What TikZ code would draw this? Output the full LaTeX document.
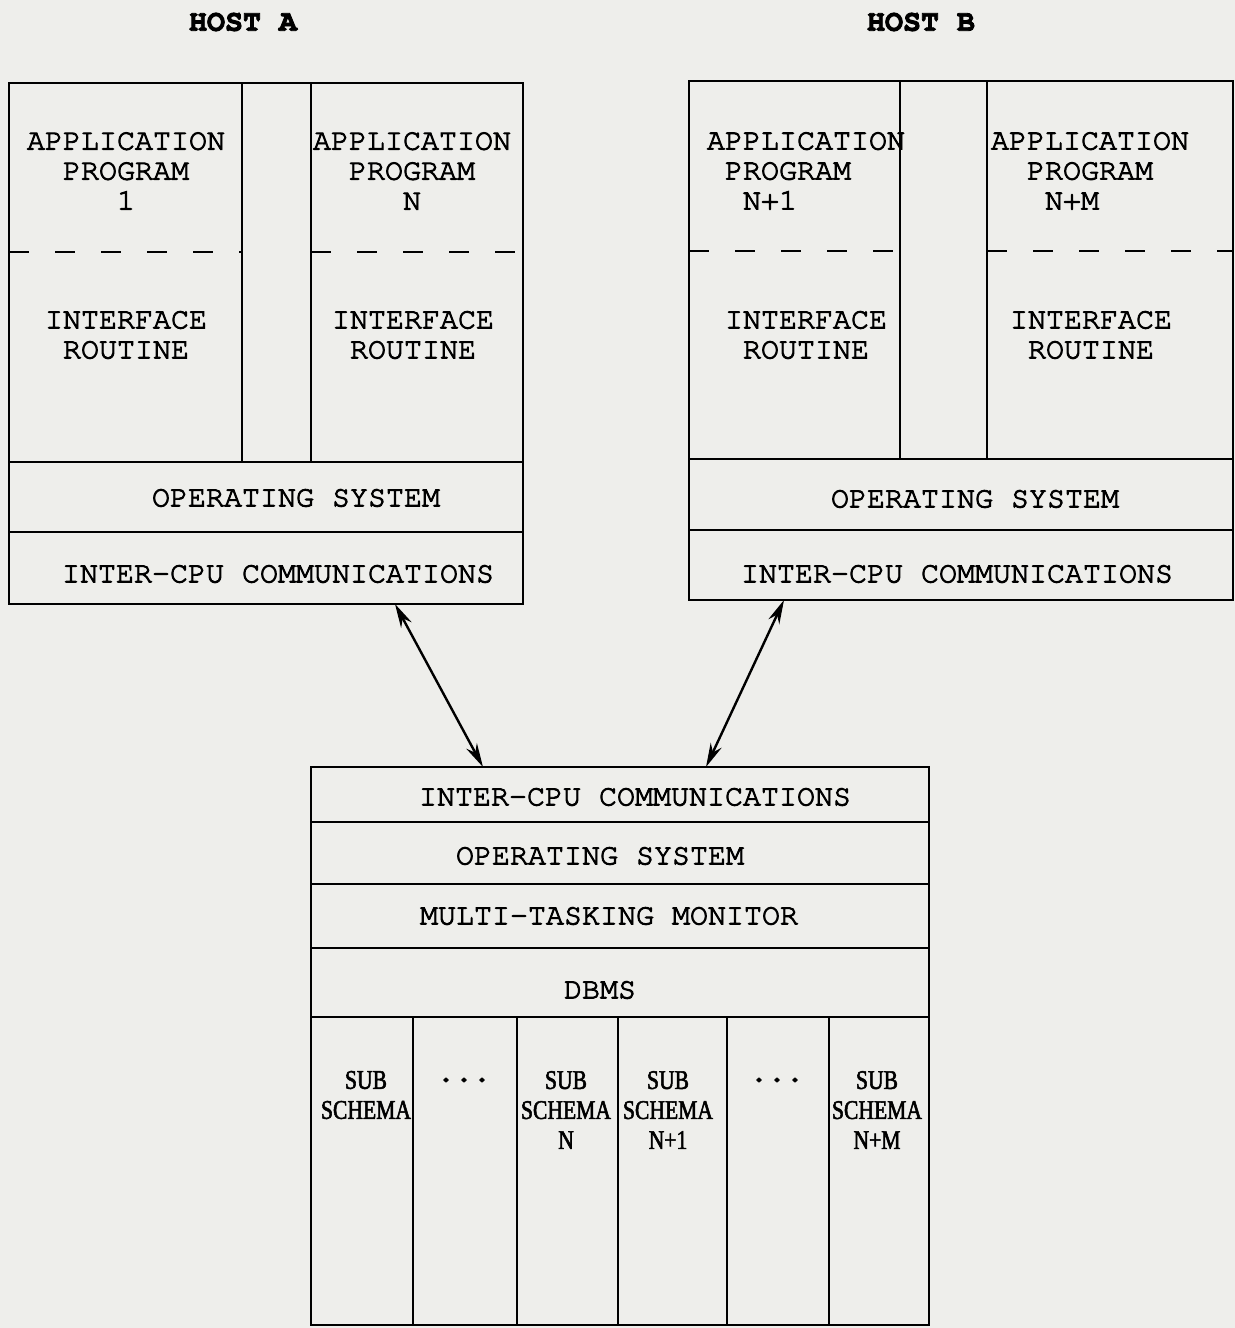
\documentclass[tikz,border=0pt]{standalone}
\usepackage{fontspec}
\setmainfont[FakeBold=3]{TeX Gyre Cursor}
\newfontfamily\schemafont[FakeStretch=0.8,FakeBold=2]{Liberation Serif}
\usetikzlibrary{arrows.meta}

\definecolor{paper}{RGB}{238,238,235}

\tikzset{
    box/.style={line width=1.2pt},
    sepline/.style={line width=1.2pt, dash pattern=on 10pt off 13pt},
    lbl/.style={inner sep=0pt, align=center, font=\fontsize{15pt}{15pt}\selectfont},
    head/.style={lbl, font=\fontsize{15pt}{15pt}\selectfont\bfseries},
    slbl/.style={inner sep=0pt, align=center, font=\schemafont\fontsize{13.5pt}{15pt}\selectfont},
    link/.style={line width=1.2pt, {Stealth[length=12pt,width=6pt]}-{Stealth[length=12pt,width=6pt]}}
}

\begin{document}
\begin{tikzpicture}[x=0.5pt, y=-0.5pt]

\fill[paper] (0,0) rectangle (1235,1328);
\useasboundingbox (0,0) rectangle (1235,1328);

% Host A
\node[head] (hosta) at (243,22) {HOST A};
\draw[box] (9,83) rectangle (523,604);
\foreach \x in {242,311} {
    \draw[box] (\x,83) -- (\x,462);
}
\draw[sepline] (9,252) -- (242,252);
\draw[sepline] (311,252) -- (523,252);
\draw[box] (9,462) -- (523,462);
\draw[box] (9,532) -- (523,532);

\node[lbl] (appa1) at (126,171) {APPLICATION\\PROGRAM\\1};
\node[lbl] (appan) at (412,171) {APPLICATION\\PROGRAM\\N};
\node[lbl] (ifa1) at (126,335) {INTERFACE\\ROUTINE};
\node[lbl] (ifan) at (413,335) {INTERFACE\\ROUTINE};
\node[lbl] (osa) at (296,498) {OPERATING SYSTEM};
\node[lbl] (comma) at (278,574) {INTER-CPU COMMUNICATIONS};

% Host B
\node[head] (hostb) at (921,22) {HOST B};
\draw[box] (689,81) rectangle (1233,600);
\foreach \x in {900,987} {
    \draw[box] (\x,81) -- (\x,459);
}
\draw[sepline] (689,251) -- (900,251);
\draw[sepline] (987,251) -- (1233,251);
\draw[box] (689,459) -- (1233,459);
\draw[box] (689,530) -- (1233,530);

\node[lbl, align=left] (appb1) at (806,171) {APPLICATION\\\hphantom{P}PROGRAM\\\hphantom{PR}N+1};
\node[lbl, align=left] (appbm) at (1090,171) {APPLICATION\\\hphantom{PR}PROGRAM\\\hphantom{PRO}N+M};
\node[lbl] (ifb1) at (806,335) {INTERFACE\\ROUTINE};
\node[lbl] (ifbm) at (1091,335) {INTERFACE\\ROUTINE};
\node[lbl] (osb) at (975,499) {OPERATING SYSTEM};
\node[lbl] (commb) at (957,574) {INTER-CPU COMMUNICATIONS};

% Database machine
\draw[box] (311,767) rectangle (929,1325);
\foreach \y in {822,884,948,1017} {
    \draw[box] (311,\y) -- (929,\y);
}
\foreach \x in {413,517,618,727,829} {
    \draw[box] (\x,1017) -- (\x,1325);
}
\node[lbl] (commd) at (635,797) {INTER-CPU COMMUNICATIONS};
\node[lbl] (osd) at (600,856) {OPERATING SYSTEM};
\node[lbl] (mtm) at (609,916) {MULTI-TASKING MONITOR};
\node[lbl] (dbms) at (600,990) {DBMS};

\node[slbl] (sub1) at (366,1095) {SUB\\SCHEMA};
\node[head] (dots1) at (464,1080) {...};
\node[slbl] (subn) at (566,1110) {SUB\\SCHEMA\\N};
\node[slbl] (subn1) at (668,1110) {SUB\\SCHEMA\\N+1};
\node[head] (dots2) at (777,1080) {...};
\node[slbl] (subnm) at (877,1110) {SUB\\SCHEMA\\N+M};

% Links
\coordinate (aout) at (395,604);
\coordinate (bout) at (784,600);
\coordinate (din1) at (483,767);
\coordinate (din2) at (706,767);
\draw[link] (aout) -- (din1);
\draw[link] (bout) -- (din2);

\end{tikzpicture}
\end{document}
